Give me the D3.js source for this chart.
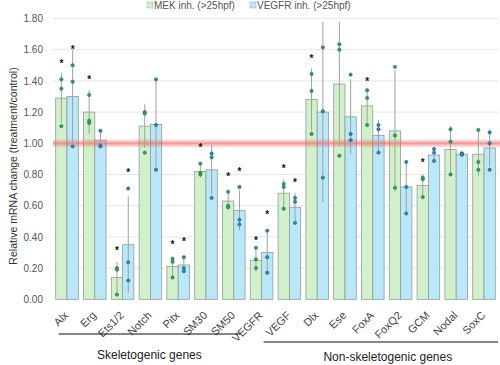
<!DOCTYPE html>
<html><head><meta charset="utf-8">
<script src="https://cdn.jsdelivr.net/npm/d3@7/dist/d3.min.js"></script>
<style>body{margin:0;background:#fff}svg{display:block;font-family:"Liberation Sans",Arial,sans-serif}</style>
</head><body><svg id="c" width="500" height="365"></svg>
<script>
const categories = ["Alx","Erg","Ets1/2","Notch","Pitx","SM30","SM50","VEGFR","VEGF","Dlx","Ese","FoxA","FoxQ2","GCM","Nodal","SoxC"];
const seriesNames = ["MEK inh. (>25hpf)","VEGFR inh. (>25hpf)"];
const mekMean = [1.29,1.20,0.14,1.11,0.21,0.82,0.63,0.25,0.68,1.28,1.38,1.24,1.08,0.73,0.96,0.93];
const vegfrMean = [1.30,1.02,0.35,1.12,0.22,0.83,0.57,0.30,0.59,1.20,1.17,1.05,0.72,0.925,0.93,0.97];
const mekErr = [0.16,0.14,0.10,0.14,0.06,0.04,0.06,0.07,0.09,0.20,0.40,0.11,0.39,0.07,0.15,0.14];
const vegfrErr = [0.30,0.05,0.31,0.29,0.05,0.16,0.13,0.14,0.09,0.58,0.24,0.10,0.17,0.04,0.01,0.12];
const mekPoints = [[1.41,1.35,1.11],[1.31,1.145,1.13],[0.20,0.19,0.03],[1.20,1.19,0.94],[0.26,0.24,0.14],[0.87,0.81,0.80],[0.69,0.60,0.59],[0.33,0.256,0.20],[0.74,0.72,0.58],[1.444,1.335,1.06],[1.635,1.60,0.92],[1.34,1.29,1.117],[1.49,1.05,0.715],[0.78,0.77,0.655],[1.09,1.01,0.80],[1.085,0.88,0.83]];
const vegfrPoints = [[1.50,1.395,0.98],[1.08,0.985,0.98],[0.71,0.237,0.12],[1.41,1.117,0.83],[0.27,0.20,0.18],[0.935,0.91,0.65],[0.72,0.51,0.48],[0.44,0.27,0.17],[0.65,0.625,0.49],[1.615,1.205,0.78],[1.44,1.06,1.02],[1.117,1.09,0.94],[0.88,0.72,0.55],[0.963,0.94,0.887],[0.936,0.927,0.93],[1.07,1.0,0.83]];
const mekStar = [1.51,1.41,0.31,null,0.35,0.97,0.79,0.38,0.84,1.545,null,1.395,null,0.88,null,null];
const vegfrStar = [1.60,null,0.81,null,0.37,null,0.82,0.545,0.75,null,null,null,null,null,null,null];
const yTicks = [0,0.2,0.4,0.6,0.8,1.0,1.2,1.4,1.6,1.8];
const groupNames = ["Skeletogenic genes","Non-skeletogenic genes"];
const groupFirst = ["Alx","VEGFR"];
const groupLast = ["SM50","SoxC"];

const fills = ["#d3f0cd","#bae8f8"];
const dotFill = ["#2f9f60","#2c86ab"];
const dotStroke = ["#1d6e3f","#1d5f7c"];

const svg = d3.select("#c");
const x0 = d3.scaleBand().domain(categories).range([53.1,497.9]).paddingInner(0.187).paddingOuter(0.0935);
const x1 = d3.scaleBand().domain([0,1]).range([0,x0.bandwidth()]);
const y = d3.scaleLinear().domain([0,1.8]).range([299.3,18.5]);
const ctr = c => x0(c) + x0.bandwidth()/2;

// gridlines
svg.append("g").selectAll("line").data(yTicks.slice(1)).join("line")
  .attr("x1",53).attr("x2",498).attr("y1",d=>y(d)).attr("y2",d=>y(d))
  .attr("stroke","#e6e6e6").attr("stroke-width",1);

// y axis labels
const yAxis = d3.axisLeft(y).tickValues(yTicks).tickFormat(d3.format(".2f")).tickSize(0).tickPadding(0);
const ga = svg.append("g").attr("transform","translate(43,0)").call(yAxis);
ga.select(".domain").remove();
ga.selectAll("text").attr("fill","#555").style("font-size","10px").style("font-family","'Liberation Sans',Arial,sans-serif");

svg.append("text").attr("transform","translate(13,166) rotate(-90)").attr("text-anchor","middle")
  .attr("dominant-baseline","central").attr("fill","#333").style("font-size","10.5px")
  .text("Relative mRNA change (treatment/control)");

const series = [
  {mean:mekMean, err:mekErr, pts:mekPoints, star:mekStar},
  {mean:vegfrMean, err:vegfrErr, pts:vegfrPoints, star:vegfrStar}
];

const cx = (i,s) => x0(categories[i]) + x1(s) + x1.bandwidth()/2;

series.forEach((ser,s)=>{
  const g = svg.append("g");
  g.selectAll("rect").data(ser.mean).join("rect")
    .attr("x",(d,i)=>x0(categories[i])+x1(s)).attr("width",x1.bandwidth())
    .attr("y",d=>y(d)).attr("height",d=>y(0)-y(d))
    .attr("fill",fills[s]).attr("stroke","#8f9f98").attr("stroke-width",0.8);
});
// red reference band
const defs = svg.append("defs");
const lg = defs.append("linearGradient").attr("id","band").attr("x1",0).attr("x2",0).attr("y1",0).attr("y2",1);
lg.append("stop").attr("offset","0%").attr("stop-color","#f26a6a").attr("stop-opacity",0.15);
lg.append("stop").attr("offset","50%").attr("stop-color","#f05a5a").attr("stop-opacity",0.6);
lg.append("stop").attr("offset","100%").attr("stop-color","#f26a6a").attr("stop-opacity",0.15);
svg.append("rect").attr("x",53).attr("width",447).attr("y",y(1)-4).attr("height",8).attr("fill","url(#band)");

series.forEach((ser,s)=>{
  const g = svg.append("g");
  g.selectAll("line").data(ser.mean).join("line")
    .attr("x1",(d,i)=>cx(i,s)).attr("x2",(d,i)=>cx(i,s))
    .attr("y1",(d,i)=>y(d+ser.err[i])).attr("y2",(d,i)=>y(Math.max(0,d-ser.err[i])))
    .attr("stroke","#a0a0a0").attr("stroke-width",1);
  const pts = [];
  ser.pts.forEach((arr,i)=>arr.forEach(v=>pts.push({i,v})));
  g.selectAll("circle").data(pts).join("circle")
    .attr("cx",d=>cx(d.i,s)).attr("cy",d=>y(d.v)).attr("r",1.7)
    .attr("fill",dotFill[s]).attr("stroke",dotStroke[s]).attr("stroke-width",0.5);
  const st = ser.star.map((v,i)=>({v,i})).filter(d=>d.v!==null);
  g.selectAll("text").data(st).join("text")
    .attr("x",d=>cx(d.i,s)).attr("y",d=>y(d.v)+3.5).attr("text-anchor","middle")
    .attr("fill","#111").style("font-size","10px").style("font-weight","bold").text("*");
});

// x labels
svg.append("g").selectAll("text").data(categories).join("text")
  .attr("transform",d=>`translate(${ctr(d)+2},${316}) rotate(-45)`)
  .attr("text-anchor","end").attr("fill","#444").style("font-size","11px").text(d=>d);

// group lines
const gy = [334,342];
const gx = [
  [x0(groupFirst[0])+3, x0(groupLast[0])+x0.bandwidth()-5],
  [ctr(groupFirst[1])+2, 498]
];
const gtx = [0,7];
const gty = [355,357];
groupNames.forEach((n,k)=>{
  const [a,b] = gx[k];
  svg.append("line").attr("x1",a).attr("x2",b).attr("y1",gy[k]).attr("y2",gy[k]).attr("stroke","#111").attr("stroke-width",1.2);
  svg.append("text").attr("x",(a+b)/2+gtx[k]).attr("y",gty[k]).attr("text-anchor","middle").attr("dominant-baseline","central")
    .attr("fill","#222").style("font-size","12px").text(n);
});

// legend
const legX = [147,250];
seriesNames.forEach((n,s)=>{
  svg.append("rect").attr("x",legX[s]).attr("y",2).attr("width",6).attr("height",6).attr("fill",fills[s]).attr("stroke","#9aa").attr("stroke-width",0.5);
  svg.append("text").attr("x",legX[s]+7).attr("y",5).attr("dominant-baseline","central").attr("fill","#555").style("font-size","10px").text(n);
});
</script></body></html>
